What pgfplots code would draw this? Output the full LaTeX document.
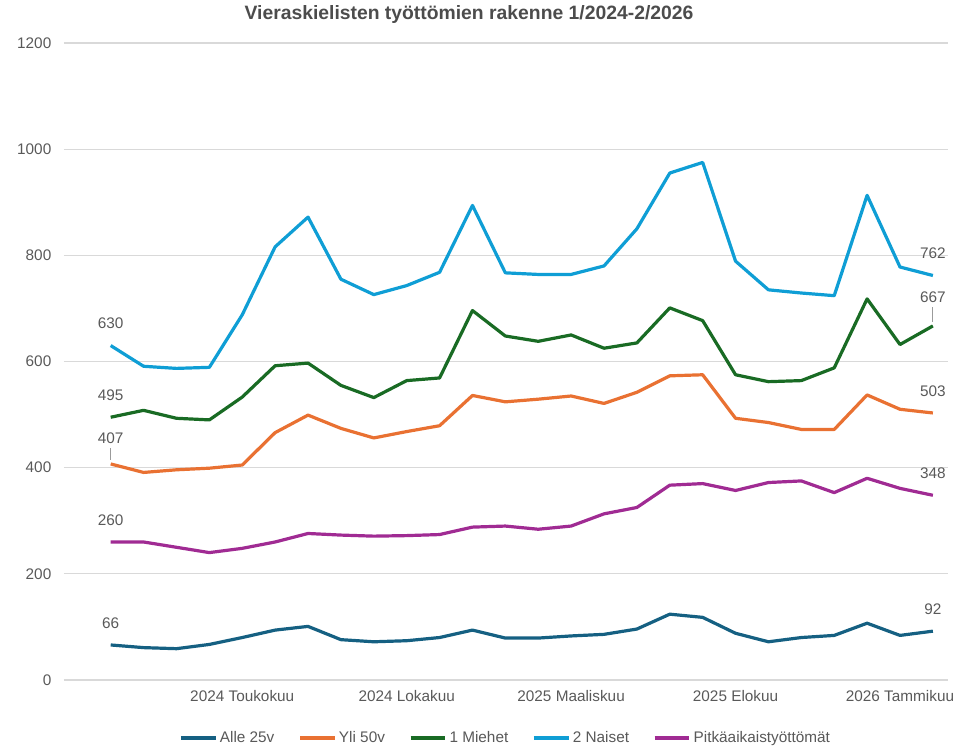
\documentclass[border=0pt]{standalone}
\usepackage{pgfplots}
\usepackage{pgfplotstable}
\usepackage{fontspec}
\setmainfont{Liberation Sans}
\pgfplotsset{compat=1.18}

\definecolor{alle}{HTML}{156082}
\definecolor{yli}{HTML}{E97132}
\definecolor{miehet}{HTML}{196B24}
\definecolor{naiset}{HTML}{0F9ED5}
\definecolor{pitka}{HTML}{A02B93}
\definecolor{txt}{HTML}{595959}
\definecolor{gridc}{HTML}{D9D9D9}

% kuukaudet 1/2024 ... 2/2026 (0..25)
\pgfplotstableread{
i alle yli miehet naiset pitka
0  66  407 495 630 260
1  61  391 508 591 260
2  59  396 493 587 250
3  67  399 490 589 240
4  80  405 533 688 248
5  94  466 592 816 260
6  101 499 597 872 276
7  76  474 555 755 273
8  72  456 532 726 271
9  74  468 564 743 272
10 80  479 569 768 274
11 94  536 696 894 288
12 79  524 648 767 290
13 79  529 638 764 284
14 83  535 650 764 290
15 86  521 625 780 313
16 96  542 635 850 325
17 124 573 701 955 367
18 118 575 677 975 370
19 88  493 575 789 357
20 72  485 562 735 372
21 80  472 564 729 375
22 84  472 588 724 353
23 107 537 718 913 380
24 84  510 632 778 361
25 92  503 667 762 348
}\data

\begin{document}
\begin{tikzpicture}
\begin{axis}[
  scale only axis,
  width=663pt, height=477.75pt,
  xmin=-1.42, xmax=25.46,
  ymin=0, ymax=1200,
  ytick={0,200,...,1200},
  xtick={4,9,14,19,24},
  xticklabels={2024 Toukokuu,2024 Lokakuu,2025 Maaliskuu,2025 Elokuu,2026 Tammikuu},
  axis line style={draw=none},
  major tick length=0pt,
  ymajorgrids, xmajorgrids=false,
  grid style={draw=gridc, line width=0.8pt},
  tick label style={font=\fontsize{11.5}{13}\selectfont, text=txt},
  yticklabel style={xshift=-6pt},
  xticklabel style={yshift=-4pt},
  /pgf/number format/assume math mode=true,
  /pgf/number format/1000 sep={},
  legend columns=5,
  legend style={at={(0.5,0)}, anchor=center, yshift=-43.5pt, draw=none,
    font=\fontsize{11.5}{13}\selectfont, text=txt,
    /tikz/every even column/.append style={column sep=16pt}},
  legend cell align=left,
  legend image code/.code={\draw[#1, line width=2.4pt] (0pt,0pt) -- (26pt,0pt);},
  every axis plot/.append style={line width=2.4pt, line join=round, mark=none},
  clip=false,
]
\addplot[alle] table[x=i, y=alle] {\data};
\addlegendentry{Alle 25v}
\addplot[yli] table[x=i, y=yli] {\data};
\addlegendentry{Yli 50v}
\addplot[miehet] table[x=i, y=miehet] {\data};
\addlegendentry{1 Miehet}
\addplot[naiset] table[x=i, y=naiset] {\data};
\addlegendentry{2 Naiset}
\addplot[pitka] table[x=i, y=pitka] {\data};
\addlegendentry{Pitkäaikaistyöttömät}

% arvotunnisteet
\begin{scope}[every node/.style={font=\fontsize{11.5}{13}\selectfont, text=txt}]
\node[yshift=16.5pt] at (axis cs:0,630) {630};
\node[yshift=16.5pt] at (axis cs:0,495) {495};
\node[yshift=19.5pt] at (axis cs:0,407) {407};
\draw[txt!60, line width=0.6pt] ([yshift=3pt]axis cs:0,407) -- ([yshift=12pt]axis cs:0,407);
\node[yshift=16.5pt] at (axis cs:0,260) {260};
\node[yshift=16.5pt] at (axis cs:0,66) {66};
\node[yshift=16.5pt] at (axis cs:25,762) {762};
\node[yshift=21.5pt] at (axis cs:25,667) {667};
\draw[txt!60, line width=0.6pt] ([yshift=3pt]axis cs:25,667) -- ([yshift=14pt]axis cs:25,667);
\node[yshift=16.5pt] at (axis cs:25,503) {503};
\node[yshift=16.5pt] at (axis cs:25,348) {348};
\node[yshift=16.5pt] at (axis cs:25,92) {92};
\end{scope}
\end{axis}
\node[font=\bfseries\fontsize{14.5}{17}\selectfont, text=txt!85!black] at (303.75pt,498.75pt) {Vieraskielisten työttömien rakenne 1/2024-2/2026};
\pgfresetboundingbox
\path (-48pt,-51.75pt) rectangle (671.25pt,510pt);
\end{tikzpicture}
\end{document}
